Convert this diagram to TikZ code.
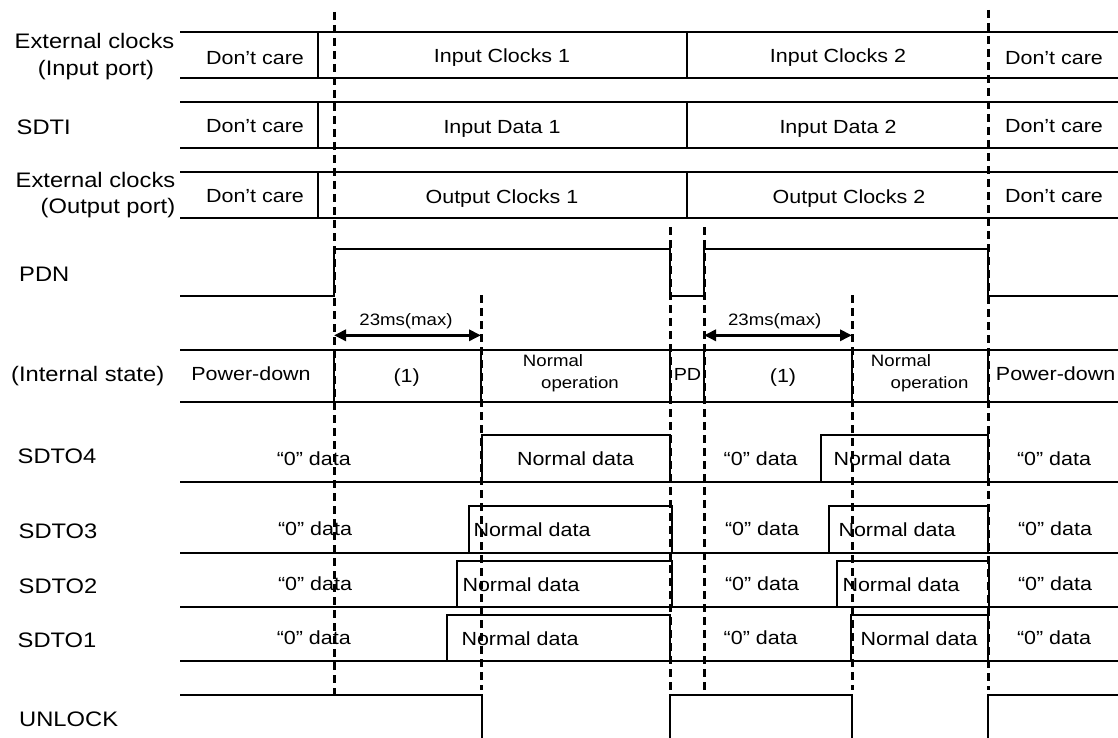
\documentclass[tikz,border=0pt]{standalone}
\usepackage{fontspec}
\setmainfont{Liberation Sans}[FakeStretch=1.13]
\usetikzlibrary{arrows.meta}
\begin{document}
\begin{tikzpicture}[x=1pt,y=-1pt,
  wave/.style={line width=2.1pt},
  gridline/.style={line width=3pt, dash pattern=on 8pt off 5pt},
  dimarrow/.style={line width=3.2pt, {Triangle[length=12pt,width=11pt]}-{Triangle[length=12pt,width=11pt]}},
  lbl/.style={inner sep=0pt, anchor=base west, font=\fontsize{21}{25}\selectfont},
  lblc/.style={inner sep=0pt, anchor=base, font=\fontsize{21}{25}\selectfont},
  cell/.style={inner sep=0pt, anchor=base, font=\fontsize{19}{23}\selectfont},
  small/.style={inner sep=0pt, anchor=base, font=\fontsize{16.5}{20}\selectfont},
  pdstyle/.style={inner sep=0pt, anchor=base, font=\fontsize{17.5}{20}\selectfont},
]
\useasboundingbox (0,0) rectangle (1118,738);

% ---- top bus rows
\foreach \t/\b in {32/78, 102/148, 172/218} {
  \draw[wave] (180,\t) -- (1118,\t);
  \draw[wave] (180,\b) -- (1118,\b);
  \draw[wave] (318,\t) -- (318,\b);
  \draw[wave] (687,\t) -- (687,\b);
}

% ---- PDN
\draw[wave] (180,296) -- (334,296) -- (334,249) -- (670,249) -- (670,296)
  -- (704,296) -- (704,249) -- (988,249) -- (988,296) -- (1118,296);

% ---- internal state
\draw[wave] (180,350) -- (1118,350);
\draw[wave] (180,402) -- (1118,402);
\foreach \x in {334,481,670,704,852,988} \draw[wave] (\x,350) -- (\x,402);

% ---- SDTO rows
% SDTO4
\draw[wave] (180,482) -- (1118,482);
\draw[wave] (482,482) -- (482,435) -- (670,435) -- (670,482);
\draw[wave] (821,482) -- (821,435) -- (988,435) -- (988,482);
% SDTO3
\draw[wave] (180,553) -- (1118,553);
\draw[wave] (469,553) -- (469,506) -- (672,506) -- (672,553);
\draw[wave] (829,553) -- (829,506) -- (990,506);
\draw[wave] (988,506) -- (988,553);
% SDTO2
\draw[wave] (180,607) -- (1118,607);
\draw[wave] (457,607) -- (457,561) -- (672,561) -- (672,607);
\draw[wave] (837,607) -- (837,561) -- (989,561) -- (989,607);
% SDTO1
\draw[wave] (180,661) -- (1118,661);
\draw[wave] (447,661) -- (447,615) -- (670,615) -- (670,661);
\draw[wave] (851,661) -- (851,615) -- (988,615) -- (988,661);

% ---- UNLOCK
\draw[wave] (180,695) -- (482,695) -- (482,738);
\draw[wave] (670,738) -- (670,695) -- (852,695) -- (852,738);
\draw[wave] (988,738) -- (988,695) -- (1118,695);

% ---- labels
\node[lblc] (extin1) at (94.5,49) {External clocks};
\node[lblc] (extin2) at (96,75.5) {(Input port)};
\node[lbl] (sdti) at (16.5,135) {SDTI};
\node[lblc] (extout1) at (95.5,187.7) {External clocks};
\node[lblc] (extout2) at (108,213.3) {(Output port)};
\node[lbl] (pdn) at (19,281) {PDN};
\node[lbl] (intst) at (11,381.7) {(Internal state)};
\node[lbl] (sdto4) at (17.5,463.3) {SDTO4};
\node[lbl] (sdto3) at (18.5,538.3) {SDTO3};
\node[lbl] (sdto2) at (18.5,593.3) {SDTO2};
\node[lbl] (sdto1) at (17.5,647.7) {SDTO1};
\node[lbl] (unlock) at (19,726.7) {UNLOCK};

% ---- bus texts
\node[cell] (dc1) at (255,65) {Don’t care};
\node[cell] (dc2) at (255,132.7) {Don’t care};
\node[cell] (dc3) at (255,202.7) {Don’t care};
\node[cell] (dc4) at (1054,65) {Don’t care};
\node[cell] (dc5) at (1054,132.7) {Don’t care};
\node[cell] (dc6) at (1054,202.7) {Don’t care};
\node[cell] (ic1) at (502,62.7) {Input Clocks 1};
\node[cell] (id1) at (502,133.3) {Input Data 1};
\node[cell] (oc1) at (502,204) {Output Clocks 1};
\node[cell] (ic2) at (838,62.7) {Input Clocks 2};
\node[cell] (id2) at (838,133.3) {Input Data 2};
\node[cell] (oc2) at (849,204) {Output Clocks 2};

% ---- internal state texts
\node[cell] (pd1) at (251,380.7) {Power-down};
\node[cell] (one1) at (406.7,382) {(1)};
\node[small] (norm1) at (553,366.7) {Normal};
\node[small] (oper1) at (580,388.3) {operation};
\node[pdstyle] (pdshort) at (687.5,380.5) {PD};
\node[cell] (one2) at (783,382) {(1)};
\node[small] (norm2) at (901,366.7) {Normal};
\node[small] (oper2) at (929.5,388.3) {operation};
\node[cell] (pd2) at (1055.6,380.7) {Power-down};

% ---- timing annotations
\node[small] (t1) at (406,325.7) {23ms(max)};
\node[small] (t2) at (774.7,325.7) {23ms(max)};
\coordinate (a1) at (334,335.3);
\coordinate (b1) at (481,335.3);
\coordinate (a2) at (704,335.3);
\coordinate (b2) at (852,335.3);
\draw[dimarrow] (a1) -- (b1);
\draw[dimarrow] (a2) -- (b2);

% ---- SDTO texts
\node[cell] (z4a) at (313.8,465.7) {“0” data};
\node[cell] (z3a) at (315,535) {“0” data};
\node[cell] (z2a) at (315,590) {“0” data};
\node[cell] (z1a) at (313.8,644) {“0” data};
\node[cell] (n4a) at (575.5,465.7) {Normal data};
\node[cell] (n3a) at (532,536.7) {Normal data};
\node[cell] (n2a) at (521,591.7) {Normal data};
\node[cell] (n1a) at (520,645.7) {Normal data};
\node[cell] (z4b) at (760.7,465.7) {“0” data};
\node[cell] (z3b) at (762,535) {“0” data};
\node[cell] (z2b) at (762,590) {“0” data};
\node[cell] (z1b) at (760.7,644) {“0” data};
\node[cell] (n4b) at (892,465.7) {Normal data};
\node[cell] (n3b) at (897,536.7) {Normal data};
\node[cell] (n2b) at (901,591.7) {Normal data};
\node[cell] (n1b) at (919,645.7) {Normal data};
\node[cell] (z4c) at (1054,465.7) {“0” data};
\node[cell] (z3c) at (1055,535) {“0” data};
\node[cell] (z2c) at (1055,590) {“0” data};
\node[cell] (z1c) at (1054,644) {“0” data};

% ---- dashed timing lines
\draw[gridline] (334,12) -- (334,700);
\draw[gridline] (481,295) -- (481,690);
\draw[gridline] (670,227) -- (670,690);
\draw[gridline] (704,227) -- (704,690);
\draw[gridline] (852,295) -- (852,690);
\draw[gridline] (988,10) -- (988,690);
\end{tikzpicture}
\end{document}
